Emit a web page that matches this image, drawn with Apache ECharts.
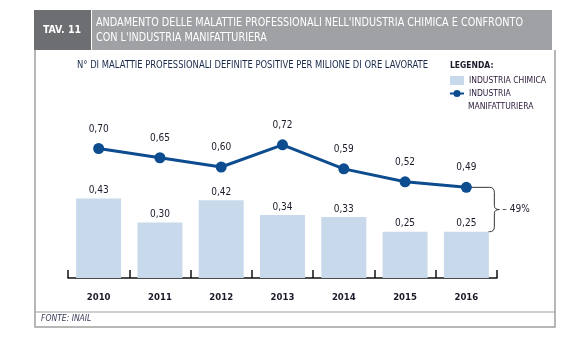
<!DOCTYPE html>
<html><head><meta charset="utf-8">
<script src="https://cdn.jsdelivr.net/npm/echarts@6/dist/echarts.min.js"></script>
<style>html,body{margin:0;padding:0;background:#fff}#c{width:567px;height:341px}</style>
</head><body><div id="c"></div>
<script>
var years = ['2010','2011','2012','2013','2014','2015','2016'];
var chimica = [0.43,0.30,0.42,0.34,0.33,0.25,0.25];
var manifatturiera = [0.70,0.65,0.60,0.72,0.59,0.52,0.49];
var chimicaName = 'INDUSTRIA CHIMICA';
var manifName = 'INDUSTRIA MANIFATTURIERA';
var changeLabel = '– 49%';
var FONT = '"Liberation Sans Narrow","DejaVu Sans Condensed","Liberation Sans",sans-serif';
function fmt(v){return v.toFixed(2).replace('.',',');}
var mctx = document.createElement('canvas').getContext('2d');
function fitScale(text, font, target){mctx.font=font; return target/mctx.measureText(text).width;}

var chart = echarts.init(document.getElementById('c'));
var option = {
  animation:false,
  textStyle:{fontFamily:FONT},
  grid:{left:68,right:70,top:93,bottom:63},
  legend:{
    left:449, top:76, padding:0, orient:'vertical', itemGap:4, itemWidth:14, itemHeight:9,
    selectedMode:false,
    textStyle:{fontFamily:FONT,fontSize:8.5,color:'#2a1a3a'},
    formatter:function(n){return n===manifName?'INDUSTRIA':n;},
    data:[{name:chimicaName,icon:'rect'},{name:manifName}]
  },
  xAxis:{
    type:'category', data:years, boundaryGap:true,
    axisLine:{show:true,lineStyle:{color:'#111',width:1.5}},
    axisTick:{show:true,inside:true,length:8,interval:0,lineStyle:{color:'#111',width:1.5}},
    axisLabel:{margin:15,fontFamily:FONT,fontSize:9.5,fontWeight:'bold',color:'#1a1a2a'}
  },
  yAxis:{type:'value',min:0,max:1,show:false},
  series:[
    {name:chimicaName,type:'bar',data:chimica,barWidth:45,
     itemStyle:{color:'#c9d9ec'},
     label:{show:true,position:'top',distance:3,fontFamily:FONT,fontSize:10,color:'#1a1a2a',formatter:function(p){return fmt(p.value);}}},
    {name:manifName,type:'line',data:manifatturiera,symbol:'circle',symbolSize:11,
     lineStyle:{color:'#0d4c8f',width:3},itemStyle:{color:'#0d4c8f'},
     label:{show:true,position:'top',distance:9,fontFamily:FONT,fontSize:10,color:'#1a1a2a',formatter:function(p){return fmt(p.value);}}}
  ]
};
chart.setOption(option);

var last = years.length-1;
var pL = chart.convertToPixel({seriesIndex:1},[last, manifatturiera[last]]);
var pB = chart.convertToPixel({seriesIndex:0},[last, chimica[last]]);
var x0 = pL[0]+23, yT=pL[1], yB=pB[1], yM=(yT+yB)/2, xb=x0+5;
var bs = {stroke:'#333',lineWidth:1,fill:null};
var braceEls = [
  {type:'line',shape:{x1:pL[0],y1:yT,x2:x0,y2:yT},style:bs},
  {type:'bezierCurve',shape:{x1:x0,y1:yT,cpx1:xb,cpy1:yT,x2:xb,y2:yT+5},style:bs},
  {type:'line',shape:{x1:xb,y1:yT+5,x2:xb,y2:yM-4},style:bs},
  {type:'bezierCurve',shape:{x1:xb,y1:yM-4,cpx1:xb,cpy1:yM,x2:xb+5,y2:yM},style:bs},
  {type:'bezierCurve',shape:{x1:xb+5,y1:yM,cpx1:xb,cpy1:yM,x2:xb,y2:yM+4},style:bs},
  {type:'line',shape:{x1:xb,y1:yM+4,x2:xb,y2:yB-5},style:bs},
  {type:'bezierCurve',shape:{x1:xb,y1:yB-5,cpx1:xb,cpy1:yB,x2:x0,y2:yB},style:bs},
  {type:'line',shape:{x1:x0,y1:yB,x2:pB[0]+22,y2:yB},style:bs}
];

var t1 = "ANDAMENTO DELLE MALATTIE PROFESSIONALI NELL'INDUSTRIA CHIMICA E CONFRONTO";
var t2 = "CON L'INDUSTRIA MANIFATTURIERA";
var tFont = '11.5px '+FONT;
var tScale = fitScale(t1, tFont, 427);
var sub = 'N° DI MALATTIE PROFESSIONALI DEFINITE POSITIVE PER MILIONE DI ORE LAVORATE';
var sFont = '10.5px '+FONT;
var sScale = fitScale(sub, sFont, 351);

chart.setOption({graphic:[
  {type:'rect',shape:{x:34,y:10,width:57,height:40},style:{fill:'#6d6e71'}},
  {type:'rect',shape:{x:92,y:10,width:460,height:40},style:{fill:'#9fa1a4'}},
  {type:'text',x:62,y:30,style:{text:'TAV. 11',fill:'#fff',font:'bold 10.5px '+FONT,textAlign:'center',textVerticalAlign:'middle'}},
  {type:'text',x:96,y:16,scaleX:tScale,style:{text:t1+'\n'+t2,fill:'#fff',font:tFont,lineHeight:15}},
  {type:'polyline',shape:{points:[[35,50],[35,327],[555,327],[555,50]]},style:{stroke:'#a0a0a0',lineWidth:1.5,fill:null}},
  {type:'line',shape:{x1:35,y1:312,x2:555,y2:312},style:{stroke:'#a0a0a0',lineWidth:1.2}},
  {type:'text',x:41,y:314,style:{text:'FONTE: INAIL',fill:'#3a3a5a',font:'italic 8.5px '+FONT}},
  {type:'text',x:77,y:60,scaleX:sScale,style:{text:sub,fill:'#1a2a4a',font:sFont}},
  {type:'text',x:450,y:61,style:{text:'LEGENDA:',fill:'#1a1a2a',font:'bold 8.5px '+FONT}},
  {type:'text',x:468,y:102,style:{text:'MANIFATTURIERA',fill:'#2a1a3a',font:'8.5px '+FONT}},
  {type:'text',x:x0+13,y:yM,style:{text:changeLabel,fill:'#1a1a2a',font:'10px '+FONT,textVerticalAlign:'middle'}}
].concat(braceEls)});
</script></body></html>
